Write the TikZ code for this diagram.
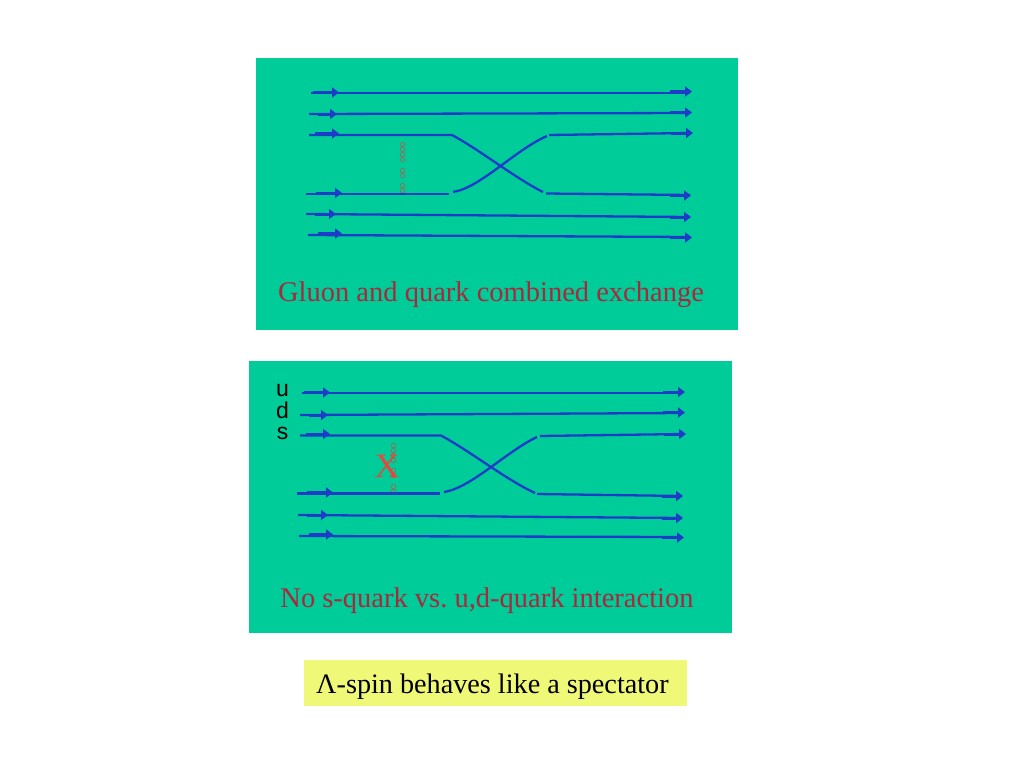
\documentclass[tikz,border=0pt]{standalone}
\usepackage{fontspec}
\setmainfont{Liberation Serif}
\setsansfont{Liberation Sans}
\usetikzlibrary{arrows.meta}
\definecolor{panelgreen}{RGB}{0,204,153}
\definecolor{quarkblue}{RGB}{30,60,200}
\definecolor{titlered}{RGB}{170,40,60}
\definecolor{notered}{RGB}{240,248,120}
\definecolor{gluonbrown}{RGB}{150,110,90}
\definecolor{crossred}{RGB}{235,70,60}
\tikzset{
  panel/.style={fill=panelgreen,draw=none},
  quark/.style={draw=quarkblue,line width=2.3pt},
  stub/.style={draw=quarkblue,line width=3pt,-{Triangle[length=7pt,width=10pt]}},
  title/.style={text=titlered,font=\frenchspacing\fontsize{28.5}{28.5}\selectfont,inner sep=0pt},
  flavour/.style={text=black,font=\sffamily\fontsize{23}{23}\selectfont,inner sep=0pt},
  gluon/.style={draw=gluonbrown,line width=0.7pt,circle,minimum size=4.6pt,inner sep=0pt},
}
\begin{document}
\begin{tikzpicture}[x=1pt,y=-1pt]
\useasboundingbox (0,0) rectangle (1024,768);
\fill[panel] (256,58) rectangle (738,330);
\fill[panel] (249,361) rectangle (732,633);
\fill[notered] (304,660) rectangle (687,706);

% top panel
\node[gluon] (g1) at (402.5,144.5) {};
\node[gluon] (g2) at (402.5,149.5) {};
\node[gluon] (g3) at (402.5,154.5) {};
\node[gluon] (g4) at (402.5,159.5) {};
\node[gluon] (g5) at (402.5,170.5) {};
\node[gluon] (g6) at (402.5,175.5) {};
\node[gluon] (g7) at (402.5,185.5) {};
\node[gluon] (g8) at (402.5,190.5) {};

\coordinate (a1) at (311,93);
\coordinate (b1) at (690,93);
\coordinate (a2) at (309,114);
\coordinate (b2) at (690,113);
\coordinate (a3) at (309,135);
\coordinate (m3) at (452,135);
\coordinate (n3) at (543,192);
\coordinate (p3) at (546,193.5);
\coordinate (b3) at (690,195);
\coordinate (a4) at (306,194);
\coordinate (m4) at (449,194);
\coordinate (n4) at (453,192);
\coordinate (p4) at (547,136);
\coordinate (q4) at (549,135);
\coordinate (b4) at (690,133);
\coordinate (a5) at (306,214);
\coordinate (b5) at (690,217);
\coordinate (a6) at (308,235);
\coordinate (b6) at (690,237);

\draw[quark] (a1) -- (b1);
\draw[quark] (a2) -- (b2);
\draw[quark] (a3) -- (m3) .. controls (480,150) and (515,178) .. (n3);
\draw[quark] (p3) -- (b3);
\draw[quark] (a4) -- (m4);
\draw[quark] (n4) .. controls (480,188) and (515,150) .. (p4);
\draw[quark] (q4) -- (b4);
\draw[quark] (a5) -- (b5);
\draw[quark] (a6) -- (b6);

\draw[stub] (a1) ++(2,-0.5) -- ++(26,0);
\draw[stub] (a2) ++(9,0) -- ++(19,0);
\draw[stub] (a3) ++(6,-1.5) -- ++(24,0);
\draw[stub] (a4) ++(10,-1) -- ++(26,0);
\draw[stub] (a5) ++(9,0) -- ++(21,0);
\draw[stub] (a6) ++(10,-1.5) -- ++(24,0);
\draw[stub] (b1) ++(-20,-1.5) -- ++(22,0);
\draw[stub] (b2) ++(-20,-0.5) -- ++(22,0);
\draw[stub] (b3) ++(-20,0.5) -- ++(21,0);
\draw[stub] (b4) ++(-19,0) -- ++(22,0);
\draw[stub] (b5) ++(-20,0) -- ++(21,0);
\draw[stub] (b6) ++(-20,0.5) -- ++(22,0);

\node[title] (t1) at (491,295) {Gluon and quark combined exchange};

% bottom panel
\node[gluon] (h1) at (393.5,445.5) {};
\node[gluon] (h2) at (393.5,450.5) {};
\node[gluon] (h3) at (393.5,455.5) {};
\node[gluon] (h4) at (393.5,460.5) {};
\node[gluon] (h5) at (393.5,470.5) {};
\node[gluon] (h6) at (393.5,475.5) {};
\node[gluon] (h7) at (393.5,486.5) {};
\node[gluon] (h8) at (393.5,491.5) {};

\coordinate (c1) at (302,393);
\coordinate (d1) at (683,393);
\coordinate (c2) at (300,415);
\coordinate (d2) at (683,413);
\coordinate (c3) at (300,435.5);
\coordinate (m5) at (441,435.5);
\coordinate (n5) at (535,493);
\coordinate (p5) at (537,494);
\coordinate (d3) at (682,496);
\coordinate (c4) at (297,493.5);
\coordinate (m6) at (440,493.5);
\coordinate (n6) at (444,492);
\coordinate (p6) at (537,437);
\coordinate (q6) at (540,436);
\coordinate (d4) at (683,434);
\coordinate (c5) at (298,515);
\coordinate (d5) at (682,518);
\coordinate (c6) at (299,536);
\coordinate (d6) at (682,537);

\draw[quark] (c1) -- (d1);
\draw[quark] (c2) -- (d2);
\draw[quark] (c3) -- (m5) .. controls (470,451) and (505,479) .. (n5);
\draw[quark] (p5) -- (d3);
\draw[quark] (c4) -- (m6);
\draw[quark] (n6) .. controls (471,488) and (507,451) .. (p6);
\draw[quark] (q6) -- (d4);
\draw[quark] (c5) -- (d5);
\draw[quark] (c6) -- (d6);

\draw[stub] (c1) ++(2,-0.5) -- ++(26,0);
\draw[stub] (c2) ++(9,0) -- ++(19,0);
\draw[stub] (c3) ++(6,-1.5) -- ++(24,0);
\draw[stub] (c4) ++(10,-1) -- ++(26,0);
\draw[stub] (c5) ++(9,0) -- ++(21,0);
\draw[stub] (c6) ++(10,-1.5) -- ++(24,0);
\draw[stub] (d1) ++(-20,-1) -- ++(22,0);
\draw[stub] (d2) ++(-20,-0.5) -- ++(22,0);
\draw[stub] (d3) ++(-20,0) -- ++(21,0);
\draw[stub] (d4) ++(-19,0) -- ++(22,0);
\draw[stub] (d5) ++(-20,0) -- ++(21,0);
\draw[stub] (d6) ++(-20,0.5) -- ++(22,0);

\node[text=crossred,font=\fontsize{34}{34}\selectfont,inner sep=0pt] (x1) at (387,466.5) {X};
\node[flavour] (u1) at (282.5,390.5) {u};
\node[flavour] (d0) at (282.5,410.5) {d};
\node[flavour] (s1) at (282.5,433.5) {s};
\node[title] (t2) at (487,601) {No s-quark vs. u,d-quark interaction};

% note
\node[text=black,font=\frenchspacing\fontsize{28.2}{28.2}\selectfont,inner sep=0pt,anchor=west] (t3) at (316,687) {Λ-spin behaves like a spectator};
\end{tikzpicture}
\end{document}
